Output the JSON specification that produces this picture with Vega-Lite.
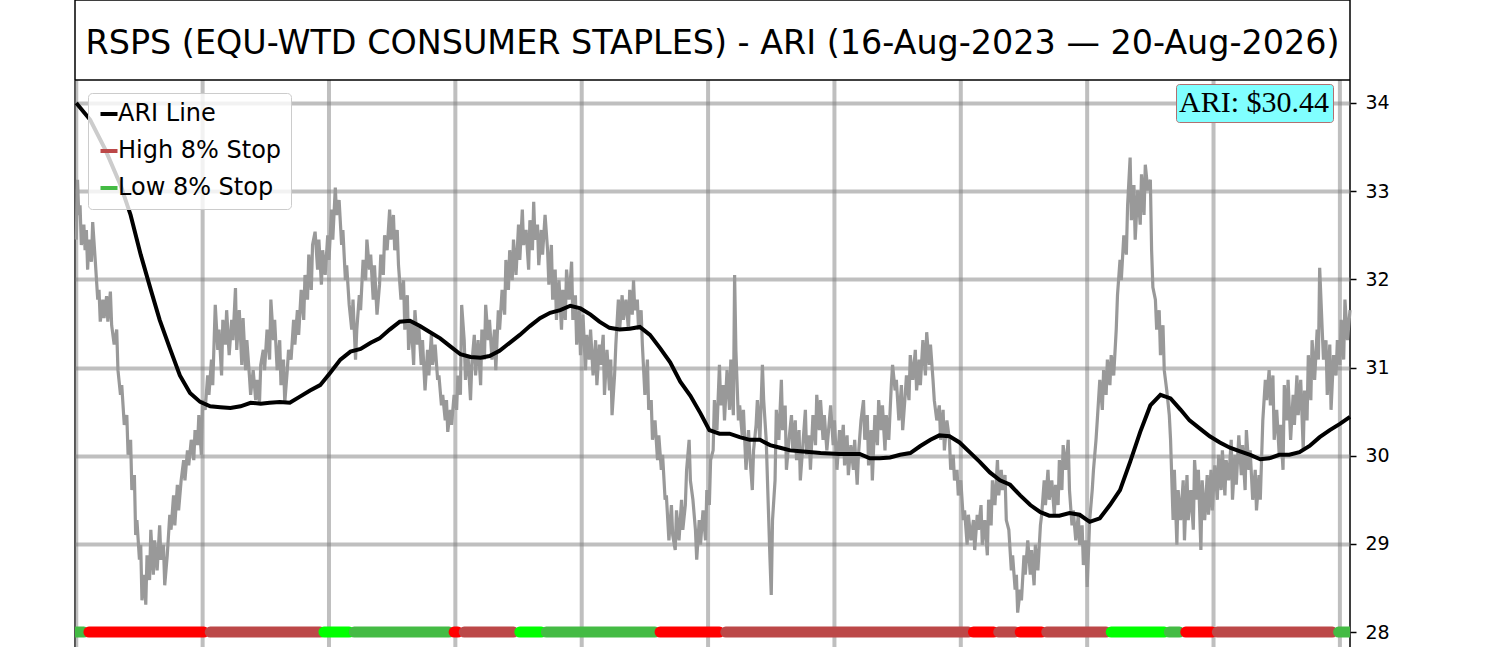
{
  "$schema": "https://vega.github.io/schema/vega-lite/v6.json",
  "background": "white",
  "autosize": "none",
  "padding": {"left": 75, "top": 0, "right": 150, "bottom": 0},
  "width": 1275,
  "height": 680,
  "config": {
    "font": "DejaVu Sans",
    "view": {"stroke": "black", "strokeWidth": 1.5}
  },
  "title": {
    "text": "RSPS (EQU-WTD CONSUMER STAPLES) - ARI (16-Aug-2023 — 20-Aug-2026)",
    "orient": "top",
    "anchor": "middle",
    "frame": "group",
    "offset": -87,
    "baseline": "alphabetic",
    "font": "DejaVu Sans",
    "fontSize": 33.4,
    "fontWeight": "normal",
    "color": "black"
  },
  "datasets": {
    "grid": [
      {"g":0},{"g":100},{"g":200},{"g":300},{"g":400},{"g":500},{"g":600},{"g":700},{"g":800},{"g":900},{"g":1000}
    ],
    "price": [
      {"t":0,"p":32.45},{"t":1,"p":33.13},{"t":2,"p":32.73},{"t":3,"p":32.84},{"t":4,"p":32.39},{"t":6,"p":32.62},{"t":7,"p":32.33},{"t":8,"p":32.56},{"t":9,"p":32.11},{"t":10,"p":32.45},
      {"t":12,"p":32.20},{"t":13,"p":32.65},{"t":15,"p":32.22},{"t":17,"p":31.77},{"t":18,"p":31.88},{"t":19,"p":31.52},{"t":21,"p":31.77},{"t":22,"p":31.56},{"t":24,"p":31.81},{"t":25,"p":31.52},
      {"t":27,"p":31.86},{"t":28,"p":31.48},{"t":30,"p":31.26},{"t":32,"p":31.43},{"t":33,"p":30.97},{"t":35,"p":30.69},{"t":36,"p":30.80},{"t":38,"p":30.35},{"t":40,"p":30.46},{"t":41,"p":30.01},
      {"t":43,"p":30.18},{"t":44,"p":29.61},{"t":46,"p":29.78},{"t":47,"p":29.10},{"t":48,"p":29.27},{"t":50,"p":28.82},{"t":51,"p":28.99},{"t":52,"p":28.36},{"t":54,"p":28.65},{"t":55,"p":28.31},
      {"t":56,"p":28.87},{"t":58,"p":28.59},{"t":59,"p":29.16},{"t":61,"p":28.65},{"t":62,"p":29.04},{"t":64,"p":28.70},{"t":66,"p":29.21},{"t":67,"p":28.82},{"t":69,"p":28.99},{"t":70,"p":28.53},
      {"t":72,"p":28.87},{"t":74,"p":29.33},{"t":75,"p":29.16},{"t":77,"p":29.55},{"t":78,"p":29.21},{"t":80,"p":29.67},{"t":81,"p":29.38},{"t":83,"p":29.72},{"t":85,"p":29.95},{"t":86,"p":29.72},
      {"t":88,"p":30.06},{"t":89,"p":29.89},{"t":91,"p":30.18},{"t":93,"p":29.95},{"t":94,"p":30.29},{"t":96,"p":30.12},{"t":97,"p":30.46},{"t":99,"p":30.01},{"t":100,"p":30.63},{"t":102,"p":30.52},
      {"t":104,"p":30.91},{"t":105,"p":30.69},{"t":107,"p":31.09},{"t":108,"p":30.80},{"t":110,"p":31.71},{"t":112,"p":31.20},{"t":113,"p":31.43},{"t":115,"p":30.91},{"t":116,"p":31.54},{"t":118,"p":31.26},
      {"t":119,"p":31.65},{"t":121,"p":31.14},{"t":123,"p":31.54},{"t":124,"p":31.31},{"t":126,"p":31.90},{"t":127,"p":31.20},{"t":129,"p":31.65},{"t":131,"p":31.03},{"t":132,"p":31.56},{"t":134,"p":30.97},
      {"t":135,"p":31.31},{"t":137,"p":30.91},{"t":138,"p":30.69},{"t":140,"p":30.97},{"t":142,"p":30.63},{"t":143,"p":30.86},{"t":145,"p":30.60},{"t":146,"p":31.03},{"t":148,"p":31.20},{"t":149,"p":30.97},
      {"t":151,"p":31.43},{"t":153,"p":31.09},{"t":154,"p":31.77},{"t":156,"p":31.31},{"t":157,"p":31.54},{"t":159,"p":30.97},{"t":161,"p":31.31},{"t":162,"p":30.80},{"t":164,"p":31.09},{"t":165,"p":30.60},
      {"t":167,"p":30.97},{"t":168,"p":31.20},{"t":170,"p":31.09},{"t":172,"p":31.54},{"t":173,"p":31.26},{"t":175,"p":31.65},{"t":176,"p":31.37},{"t":178,"p":31.88},{"t":180,"p":31.54},{"t":181,"p":32.05},
      {"t":183,"p":31.77},{"t":184,"p":32.28},{"t":186,"p":31.88},{"t":187,"p":32.39},{"t":189,"p":32.54},{"t":191,"p":32.11},{"t":192,"p":32.45},{"t":194,"p":31.94},{"t":195,"p":32.33},{"t":197,"p":32.05},
      {"t":199,"p":32.50},{"t":200,"p":32.22},{"t":202,"p":32.79},{"t":203,"p":32.45},{"t":205,"p":33.04},{"t":206,"p":32.73},{"t":208,"p":32.90},{"t":210,"p":32.39},{"t":211,"p":32.56},{"t":213,"p":31.99},
      {"t":214,"p":32.16},{"t":216,"p":31.71},{"t":218,"p":31.43},{"t":219,"p":31.77},{"t":221,"p":31.09},{"t":222,"p":31.43},{"t":224,"p":31.82},{"t":225,"p":31.65},{"t":227,"p":32.22},{"t":229,"p":31.99},
      {"t":230,"p":32.45},{"t":232,"p":32.11},{"t":233,"p":32.28},{"t":235,"p":31.77},{"t":236,"p":32.16},{"t":238,"p":31.60},{"t":240,"p":31.94},{"t":241,"p":32.28},{"t":243,"p":32.05},{"t":244,"p":32.50},
      {"t":246,"p":32.33},{"t":248,"p":32.79},{"t":249,"p":32.45},{"t":251,"p":32.73},{"t":252,"p":32.33},{"t":254,"p":32.56},{"t":255,"p":32.16},{"t":257,"p":31.77},{"t":259,"p":31.99},{"t":260,"p":31.43},
      {"t":262,"p":31.82},{"t":263,"p":31.20},{"t":265,"p":31.54},{"t":267,"p":31.03},{"t":268,"p":31.65},{"t":270,"p":31.26},{"t":271,"p":31.48},{"t":273,"p":31.03},{"t":274,"p":31.31},{"t":276,"p":30.74},
      {"t":278,"p":31.20},{"t":279,"p":30.91},{"t":281,"p":31.37},{"t":282,"p":31.03},{"t":284,"p":31.26},{"t":286,"p":30.86},{"t":287,"p":30.91},{"t":289,"p":30.57},{"t":290,"p":30.69},{"t":292,"p":30.40},
      {"t":293,"p":30.63},{"t":294,"p":30.27},{"t":296,"p":30.52},{"t":297,"p":30.35},{"t":299,"p":30.69},{"t":301,"p":30.52},{"t":302,"p":30.91},{"t":304,"p":30.69},{"t":305,"p":31.71},{"t":307,"p":31.31},
      {"t":308,"p":30.86},{"t":310,"p":31.14},{"t":312,"p":30.63},{"t":313,"p":31.03},{"t":315,"p":31.37},{"t":316,"p":30.91},{"t":318,"p":31.31},{"t":320,"p":30.80},{"t":321,"p":31.43},{"t":323,"p":31.09},
      {"t":324,"p":31.71},{"t":326,"p":31.31},{"t":327,"p":31.54},{"t":329,"p":31.09},{"t":331,"p":31.43},{"t":332,"p":30.97},{"t":334,"p":31.65},{"t":335,"p":31.43},{"t":337,"p":31.88},{"t":339,"p":31.60},
      {"t":340,"p":32.22},{"t":342,"p":31.88},{"t":343,"p":32.33},{"t":345,"p":31.99},{"t":346,"p":32.45},{"t":348,"p":32.05},{"t":350,"p":32.62},{"t":351,"p":32.22},{"t":353,"p":32.79},{"t":354,"p":32.39},
      {"t":356,"p":32.56},{"t":358,"p":32.11},{"t":359,"p":32.67},{"t":361,"p":32.33},{"t":362,"p":32.88},{"t":363,"p":32.45},{"t":365,"p":32.62},{"t":366,"p":32.16},{"t":368,"p":32.56},{"t":369,"p":32.28},
      {"t":371,"p":32.73},{"t":373,"p":32.33},{"t":374,"p":31.94},{"t":376,"p":32.39},{"t":377,"p":31.77},{"t":379,"p":32.11},{"t":380,"p":31.54},{"t":382,"p":31.99},{"t":384,"p":31.43},{"t":385,"p":31.88},
      {"t":387,"p":31.54},{"t":388,"p":32.11},{"t":390,"p":31.77},{"t":392,"p":32.20},{"t":393,"p":31.54},{"t":395,"p":31.82},{"t":396,"p":31.26},{"t":398,"p":31.65},{"t":399,"p":31.14},{"t":401,"p":31.60},
      {"t":403,"p":30.97},{"t":404,"p":31.37},{"t":406,"p":31.09},{"t":407,"p":31.43},{"t":409,"p":30.91},{"t":411,"p":31.31},{"t":412,"p":30.80},{"t":414,"p":31.26},{"t":415,"p":31.03},{"t":417,"p":31.37},
      {"t":418,"p":30.69},{"t":420,"p":31.20},{"t":422,"p":30.74},{"t":423,"p":31.09},{"t":424,"p":30.46},{"t":426,"p":30.91},{"t":427,"p":31.26},{"t":429,"p":31.77},{"t":430,"p":31.43},{"t":432,"p":31.82},
      {"t":433,"p":31.54},{"t":435,"p":31.77},{"t":437,"p":31.43},{"t":438,"p":31.88},{"t":440,"p":31.60},{"t":441,"p":31.99},{"t":442,"p":31.65},{"t":444,"p":31.77},{"t":445,"p":31.43},{"t":447,"p":31.65},
      {"t":448,"p":31.26},{"t":450,"p":30.69},{"t":452,"p":31.09},{"t":453,"p":30.52},{"t":455,"p":30.63},{"t":456,"p":30.18},{"t":458,"p":30.40},{"t":460,"p":29.95},{"t":461,"p":30.23},{"t":463,"p":29.84},
      {"t":464,"p":30.01},{"t":466,"p":29.50},{"t":467,"p":29.55},{"t":469,"p":29.04},{"t":471,"p":29.44},{"t":472,"p":29.10},{"t":474,"p":28.93},{"t":475,"p":29.38},{"t":477,"p":29.04},{"t":479,"p":29.50},
      {"t":480,"p":29.16},{"t":482,"p":29.44},{"t":483,"p":29.84},{"t":485,"p":30.18},{"t":486,"p":29.72},{"t":488,"p":29.50},{"t":490,"p":29.16},{"t":491,"p":28.82},{"t":493,"p":29.27},{"t":494,"p":28.99},
      {"t":496,"p":29.38},{"t":498,"p":29.04},{"t":499,"p":29.61},{"t":501,"p":29.44},{"t":502,"p":29.95},{"t":504,"p":30.06},{"t":505,"p":30.63},{"t":507,"p":30.29},{"t":509,"p":31.03},{"t":510,"p":30.57},
      {"t":512,"p":30.80},{"t":513,"p":30.40},{"t":515,"p":30.97},{"t":517,"p":30.52},{"t":518,"p":31.09},{"t":520,"p":30.46},{"t":521,"p":32.05},{"t":522,"p":31.20},{"t":524,"p":30.40},{"t":525,"p":30.57},
      {"t":527,"p":30.23},{"t":528,"p":30.52},{"t":530,"p":29.84},{"t":532,"p":30.29},{"t":533,"p":30.01},{"t":535,"p":29.61},{"t":536,"p":30.06},{"t":538,"p":30.35},{"t":539,"p":30.63},{"t":541,"p":30.18},
      {"t":543,"p":31.03},{"t":544,"p":30.63},{"t":546,"p":30.18},{"t":547,"p":29.72},{"t":549,"p":28.82},{"t":550,"p":28.42},{"t":551,"p":29.27},{"t":553,"p":29.72},{"t":554,"p":30.52},{"t":556,"p":30.18},
      {"t":558,"p":30.86},{"t":559,"p":30.29},{"t":561,"p":30.57},{"t":562,"p":29.84},{"t":564,"p":30.18},{"t":566,"p":30.46},{"t":567,"p":30.06},{"t":569,"p":30.40},{"t":570,"p":29.95},{"t":572,"p":30.29},
      {"t":573,"p":29.72},{"t":575,"p":30.12},{"t":577,"p":30.52},{"t":578,"p":30.01},{"t":580,"p":30.23},{"t":581,"p":29.84},{"t":583,"p":30.46},{"t":585,"p":30.12},{"t":586,"p":30.69},{"t":588,"p":30.29},
      {"t":589,"p":30.63},{"t":591,"p":30.18},{"t":592,"p":30.46},{"t":594,"p":30.06},{"t":596,"p":30.40},{"t":597,"p":30.57},{"t":599,"p":30.12},{"t":600,"p":30.40},{"t":602,"p":29.84},{"t":604,"p":30.29},
      {"t":605,"p":30.01},{"t":607,"p":30.35},{"t":608,"p":29.89},{"t":610,"p":30.23},{"t":611,"p":29.78},{"t":613,"p":30.12},{"t":615,"p":29.84},{"t":616,"p":30.18},{"t":618,"p":29.67},{"t":619,"p":30.01},
      {"t":621,"p":30.40},{"t":623,"p":30.63},{"t":624,"p":30.18},{"t":626,"p":30.46},{"t":627,"p":29.89},{"t":629,"p":30.29},{"t":630,"p":29.72},{"t":632,"p":30.46},{"t":634,"p":30.12},{"t":635,"p":30.63},
      {"t":637,"p":30.29},{"t":638,"p":30.57},{"t":640,"p":30.06},{"t":641,"p":30.46},{"t":643,"p":30.18},{"t":645,"p":30.80},{"t":646,"p":31.03},{"t":648,"p":30.74},{"t":649,"p":30.86},{"t":651,"p":30.40},
      {"t":653,"p":30.80},{"t":654,"p":30.29},{"t":656,"p":30.69},{"t":657,"p":30.91},{"t":659,"p":30.63},{"t":660,"p":31.14},{"t":662,"p":30.86},{"t":664,"p":31.20},{"t":665,"p":30.74},{"t":667,"p":31.09},
      {"t":668,"p":30.80},{"t":670,"p":31.31},{"t":672,"p":30.91},{"t":673,"p":31.40},{"t":675,"p":31.03},{"t":676,"p":31.26},{"t":678,"p":30.86},{"t":679,"p":30.63},{"t":681,"p":30.40},{"t":683,"p":30.57},
      {"t":684,"p":30.18},{"t":686,"p":30.52},{"t":687,"p":30.06},{"t":689,"p":30.40},{"t":691,"p":30.18},{"t":692,"p":29.84},{"t":694,"p":30.01},{"t":695,"p":29.72},{"t":697,"p":29.84},{"t":698,"p":29.55},
      {"t":700,"p":29.72},{"t":702,"p":29.27},{"t":703,"p":29.38},{"t":705,"p":28.99},{"t":706,"p":29.33},{"t":708,"p":29.04},{"t":710,"p":29.27},{"t":711,"p":28.93},{"t":713,"p":29.33},{"t":714,"p":29.16},
      {"t":716,"p":29.44},{"t":717,"p":28.99},{"t":719,"p":29.27},{"t":721,"p":28.87},{"t":722,"p":29.50},{"t":724,"p":29.21},{"t":725,"p":29.72},{"t":727,"p":29.44},{"t":729,"p":29.95},{"t":730,"p":29.55},
      {"t":732,"p":29.84},{"t":733,"p":29.61},{"t":735,"p":29.78},{"t":736,"p":29.27},{"t":738,"p":29.16},{"t":740,"p":28.70},{"t":741,"p":28.87},{"t":743,"p":28.48},{"t":744,"p":28.65},{"t":745,"p":28.22},
      {"t":747,"p":28.48},{"t":748,"p":28.36},{"t":750,"p":28.87},{"t":751,"p":28.65},{"t":753,"p":29.04},{"t":755,"p":28.65},{"t":756,"p":28.93},{"t":758,"p":28.53},{"t":759,"p":28.99},{"t":761,"p":28.70},
      {"t":763,"p":29.21},{"t":764,"p":29.33},{"t":766,"p":29.72},{"t":767,"p":29.44},{"t":769,"p":29.84},{"t":770,"p":29.50},{"t":772,"p":29.72},{"t":774,"p":29.33},{"t":775,"p":29.67},{"t":777,"p":29.44},
      {"t":778,"p":29.95},{"t":780,"p":29.61},{"t":781,"p":30.12},{"t":783,"p":29.84},{"t":785,"p":30.18},{"t":786,"p":29.61},{"t":788,"p":29.21},{"t":789,"p":29.38},{"t":791,"p":29.04},{"t":793,"p":29.33},
      {"t":794,"p":28.99},{"t":796,"p":29.21},{"t":797,"p":28.76},{"t":799,"p":29.04},{"t":800,"p":28.51},{"t":802,"p":29.27},{"t":804,"p":29.61},{"t":805,"p":29.84},{"t":807,"p":30.18},{"t":808,"p":30.40},
      {"t":810,"p":30.86},{"t":812,"p":30.52},{"t":813,"p":30.97},{"t":815,"p":30.69},{"t":816,"p":31.09},{"t":818,"p":30.80},{"t":819,"p":31.14},{"t":821,"p":30.91},{"t":823,"p":31.43},{"t":824,"p":31.82},
      {"t":826,"p":32.22},{"t":827,"p":31.99},{"t":829,"p":32.50},{"t":831,"p":32.28},{"t":832,"p":32.84},{"t":834,"p":33.38},{"t":835,"p":32.67},{"t":837,"p":33.07},{"t":838,"p":32.45},{"t":840,"p":33.01},
      {"t":842,"p":32.62},{"t":843,"p":33.19},{"t":845,"p":32.73},{"t":846,"p":33.30},{"t":848,"p":33.01},{"t":850,"p":33.13},{"t":851,"p":32.33},{"t":852,"p":31.91},{"t":854,"p":31.77},{"t":855,"p":31.43},
      {"t":857,"p":31.65},{"t":858,"p":31.14},{"t":860,"p":31.48},{"t":861,"p":30.97},{"t":863,"p":30.74},{"t":865,"p":30.46},{"t":866,"p":30.18},{"t":868,"p":29.27},{"t":869,"p":29.84},{"t":871,"p":28.99},
      {"t":872,"p":29.61},{"t":874,"p":29.27},{"t":876,"p":29.72},{"t":877,"p":29.04},{"t":879,"p":29.78},{"t":880,"p":29.27},{"t":882,"p":29.61},{"t":884,"p":29.16},{"t":885,"p":29.95},{"t":887,"p":29.50},
      {"t":888,"p":29.84},{"t":890,"p":28.93},{"t":891,"p":29.72},{"t":893,"p":29.27},{"t":895,"p":29.78},{"t":896,"p":29.33},{"t":898,"p":29.84},{"t":899,"p":29.38},{"t":901,"p":29.89},{"t":903,"p":29.50},
      {"t":904,"p":30.01},{"t":906,"p":29.61},{"t":907,"p":30.06},{"t":909,"p":29.55},{"t":910,"p":29.95},{"t":912,"p":29.72},{"t":914,"p":30.18},{"t":915,"p":29.50},{"t":917,"p":30.01},{"t":918,"p":29.67},
      {"t":920,"p":30.23},{"t":922,"p":29.78},{"t":923,"p":30.12},{"t":925,"p":29.61},{"t":926,"p":30.29},{"t":928,"p":29.84},{"t":929,"p":30.06},{"t":931,"p":29.50},{"t":933,"p":29.84},{"t":934,"p":29.38},
      {"t":936,"p":29.78},{"t":937,"p":29.50},{"t":939,"p":30.40},{"t":941,"p":30.86},{"t":942,"p":30.63},{"t":944,"p":30.97},{"t":945,"p":30.57},{"t":947,"p":30.91},{"t":948,"p":30.18},{"t":950,"p":30.52},
      {"t":952,"p":30.01},{"t":953,"p":30.35},{"t":955,"p":29.84},{"t":956,"p":30.80},{"t":958,"p":30.40},{"t":959,"p":30.86},{"t":961,"p":30.18},{"t":963,"p":30.69},{"t":964,"p":30.35},{"t":966,"p":30.91},
      {"t":967,"p":30.46},{"t":969,"p":30.86},{"t":971,"p":30.06},{"t":972,"p":30.74},{"t":974,"p":30.40},{"t":975,"p":31.14},{"t":977,"p":30.63},{"t":978,"p":31.31},{"t":980,"p":30.86},{"t":982,"p":31.43},
      {"t":983,"p":31.09},{"t":984,"p":32.13},{"t":986,"p":31.43},{"t":987,"p":31.09},{"t":989,"p":31.31},{"t":990,"p":30.69},{"t":992,"p":31.26},{"t":993,"p":30.52},{"t":995,"p":31.14},{"t":997,"p":30.91},
      {"t":998,"p":31.31},{"t":1000,"p":31.03},{"t":1001,"p":31.54},{"t":1003,"p":31.09},{"t":1004,"p":31.77},{"t":1006,"p":31.31},{"t":1008,"p":31.65}
    ],
    "ari": [
      {"t":0,"a":34.00},{"t":11,"a":33.81},{"t":23,"a":33.47},{"t":35,"a":33.07},{"t":43,"a":32.73},{"t":51,"a":32.28},{"t":59,"a":31.88},{"t":66,"a":31.54},{"t":74,"a":31.22},{"t":82,"a":30.91},
      {"t":90,"a":30.71},{"t":98,"a":30.61},{"t":106,"a":30.56},{"t":114,"a":30.55},{"t":122,"a":30.54},{"t":130,"a":30.56},{"t":138,"a":30.60},{"t":146,"a":30.59},{"t":153,"a":30.60},{"t":161,"a":30.61},
      {"t":169,"a":30.60},{"t":177,"a":30.67},{"t":185,"a":30.74},{"t":193,"a":30.80},{"t":201,"a":30.94},{"t":209,"a":31.09},{"t":217,"a":31.18},{"t":225,"a":31.21},{"t":233,"a":31.28},{"t":240,"a":31.33},
      {"t":248,"a":31.43},{"t":256,"a":31.52},{"t":264,"a":31.53},{"t":272,"a":31.47},{"t":280,"a":31.40},{"t":288,"a":31.33},{"t":296,"a":31.24},{"t":304,"a":31.15},{"t":312,"a":31.12},{"t":320,"a":31.11},
      {"t":327,"a":31.13},{"t":335,"a":31.19},{"t":343,"a":31.28},{"t":351,"a":31.37},{"t":359,"a":31.47},{"t":367,"a":31.56},{"t":375,"a":31.62},{"t":383,"a":31.65},{"t":391,"a":31.70},{"t":399,"a":31.67},
      {"t":407,"a":31.60},{"t":414,"a":31.52},{"t":422,"a":31.45},{"t":430,"a":31.43},{"t":438,"a":31.44},{"t":446,"a":31.46},{"t":454,"a":31.37},{"t":462,"a":31.22},{"t":470,"a":31.06},{"t":478,"a":30.84},
      {"t":486,"a":30.68},{"t":494,"a":30.48},{"t":501,"a":30.29},{"t":509,"a":30.25},{"t":517,"a":30.25},{"t":525,"a":30.21},{"t":533,"a":30.18},{"t":541,"a":30.18},{"t":549,"a":30.12},{"t":557,"a":30.09},
      {"t":565,"a":30.06},{"t":573,"a":30.05},{"t":589,"a":30.03},{"t":604,"a":30.02},{"t":620,"a":30.02},{"t":628,"a":29.97},{"t":636,"a":29.97},{"t":644,"a":29.98},{"t":652,"a":30.01},{"t":660,"a":30.03},
      {"t":668,"a":30.11},{"t":676,"a":30.18},{"t":683,"a":30.23},{"t":691,"a":30.22},{"t":699,"a":30.15},{"t":707,"a":30.04},{"t":715,"a":29.93},{"t":723,"a":29.81},{"t":731,"a":29.72},{"t":739,"a":29.67},
      {"t":747,"a":29.55},{"t":755,"a":29.44},{"t":763,"a":29.36},{"t":770,"a":29.32},{"t":778,"a":29.32},{"t":786,"a":29.35},{"t":794,"a":29.33},{"t":802,"a":29.25},{"t":810,"a":29.29},{"t":818,"a":29.44},
      {"t":826,"a":29.61},{"t":834,"a":29.93},{"t":842,"a":30.27},{"t":850,"a":30.57},{"t":858,"a":30.69},{"t":866,"a":30.65},{"t":874,"a":30.52},{"t":881,"a":30.40},{"t":889,"a":30.31},{"t":897,"a":30.22},
      {"t":905,"a":30.15},{"t":913,"a":30.09},{"t":921,"a":30.05},{"t":929,"a":30.01},{"t":937,"a":29.96},{"t":944,"a":29.97},{"t":952,"a":30.01},{"t":960,"a":30.01},{"t":968,"a":30.04},{"t":976,"a":30.11},
      {"t":984,"a":30.21},{"t":992,"a":30.29},{"t":1000,"a":30.36},{"t":1008,"a":30.44}
    ],
    "stops": [
      {"s":0,"e":6,"stop":"Low 8% Stop"},
      {"s":10,"e":101,"stop":"High Stop Hit"},
      {"s":106,"e":193,"stop":"High 8% Stop"},
      {"s":196,"e":216,"stop":"Low Stop Hit"},
      {"s":220,"e":295,"stop":"Low 8% Stop"},
      {"s":299,"e":302,"stop":"High Stop Hit"},
      {"s":307,"e":346,"stop":"High 8% Stop"},
      {"s":351,"e":368,"stop":"Low Stop Hit"},
      {"s":372,"e":458,"stop":"Low 8% Stop"},
      {"s":462,"e":509,"stop":"High Stop Hit"},
      {"s":514,"e":706,"stop":"High 8% Stop"},
      {"s":710,"e":726,"stop":"High Stop Hit"},
      {"s":730,"e":743,"stop":"High 8% Stop"},
      {"s":747,"e":764,"stop":"High Stop Hit"},
      {"s":768,"e":815,"stop":"High 8% Stop"},
      {"s":819,"e":861,"stop":"Low Stop Hit"},
      {"s":865,"e":873,"stop":"Low 8% Stop"},
      {"s":878,"e":899,"stop":"High Stop Hit"},
      {"s":903,"e":994,"stop":"High 8% Stop"},
      {"s":999,"e":1012,"stop":"Low 8% Stop"}
    ],
    "last": [
      {"t":1008,"a":30.44,"label":"ARI: $30.44"}
    ]
  },
  "encoding": {
    "x": {
      "type": "quantitative",
      "scale": {"domain": [-1, 1008], "nice": false, "zero": false},
      "axis": null
    },
    "y": {
      "type": "quantitative",
      "scale": {"domain": [27.456, 35.168], "nice": false, "zero": false},
      "axis": {
        "orient": "right",
        "values": [28, 29, 30, 31, 32, 33, 34],
        "title": null, "domain": false,
        "grid": true, "gridColor": "#7f7f7f", "gridOpacity": 0.5, "gridWidth": 4,
        "tickColor": "black", "tickSize": 6, "tickWidth": 1.5,
        "labelFont": "DejaVu Sans", "labelFontSize": 19, "labelColor": "black", "labelPadding": 9
      }
    }
  },
  "layer": [
    {
      "data": {"name": "grid"},
      "mark": {"type": "rule", "color": "#7f7f7f", "opacity": 0.5, "strokeWidth": 4},
      "encoding": {
        "x": {"field": "g"},
        "y": {"datum": 27.456},
        "y2": {"datum": 34.261}
      }
    },
    {
      "data": {"values": [{"x0": -1, "x1": 1008, "edge": 34.261}]},
      "mark": {"type": "rule", "color": "black", "strokeWidth": 1.5},
      "encoding": {
        "x": {"field": "x0"},
        "x2": {"field": "x1"},
        "y": {"field": "edge"}
      }
    },
    {
      "data": {"name": "price"},
      "mark": {"type": "line", "color": "#999999", "strokeWidth": 3.2},
      "encoding": {
        "x": {"field": "t"},
        "y": {"field": "p"}
      }
    },
    {
      "data": {"name": "ari"},
      "mark": {"type": "line", "strokeWidth": 4},
      "encoding": {
        "x": {"field": "t"},
        "y": {"field": "a"},
        "color": {
          "datum": "ARI Line",
          "type": "nominal",
          "scale": {
            "domain": ["ARI Line", "High 8% Stop", "Low 8% Stop", "High Stop Hit", "Low Stop Hit"],
            "range": ["#000000", "#bc4848", "#44bb44", "#ff0000", "#00ff00"]
          }
        }
      }
    },
    {
      "data": {"name": "stops"},
      "mark": {"type": "rule", "strokeWidth": 11, "strokeCap": "round", "clip": true},
      "encoding": {
        "x": {"field": "s"},
        "x2": {"field": "e"},
        "y": {"datum": 28},
        "color": {
          "field": "stop",
          "type": "nominal",
          "scale": {
            "domain": ["ARI Line", "High 8% Stop", "Low 8% Stop", "High Stop Hit", "Low Stop Hit"],
            "range": ["#000000", "#bc4848", "#44bb44", "#ff0000", "#00ff00"]
          },
          "legend": {
            "values": ["ARI Line", "High 8% Stop", "Low 8% Stop"],
            "title": null,
            "orient": "none",
            "legendX": 13,
            "legendY": 93,
            "symbolType": "stroke",
            "symbolStrokeWidth": 4,
            "symbolSize": 289,
            "labelFont": "DejaVu Sans",
            "labelFontSize": 24,
            "labelColor": "black",
            "labelOffset": -3,
            "labelLimit": 400,
            "rowPadding": 13,
            "padding": 9,
            "fillColor": "rgba(255,255,255,0.8)",
            "strokeColor": "#cccccc",
            "cornerRadius": 4
          }
        }
      }
    },
    {
      "data": {"name": "last"},
      "mark": {"type": "point", "opacity": 0},
      "encoding": {
        "x": {"field": "t"},
        "y": {"field": "a"},
        "shape": {
          "field": "label",
          "type": "nominal",
          "legend": {
            "title": null,
            "orient": "none",
            "legendX": 1101,
            "legendY": 84,
            "symbolOpacity": 0,
            "symbolSize": 1,
            "labelOffset": -31,
            "labelFont": "Liberation Serif",
            "labelFontSize": 30,
            "labelColor": "black",
            "labelLimit": 400,
            "padding": 4,
            "fillColor": "#80ffff",
            "strokeColor": "#b07070",
            "cornerRadius": 3
          }
        }
      }
    }
  ]
}
